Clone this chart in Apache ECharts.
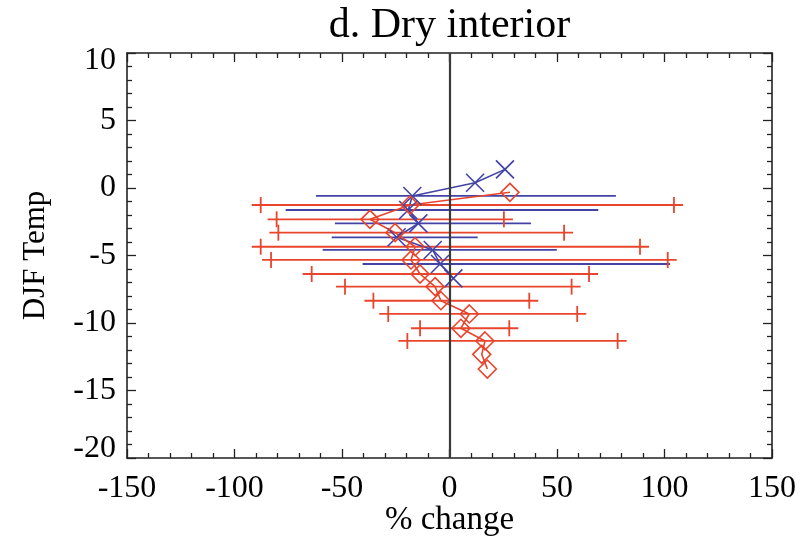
<!DOCTYPE html>
<html>
<head>
<meta charset="utf-8">
<script src="https://cdn.jsdelivr.net/npm/echarts@6/dist/echarts.min.js"></script>
<style>
html,body{margin:0;padding:0;background:#fff;}
#c{width:802px;height:539px;}
</style>
</head>
<body>
<div id="c"></div>
<script>
// ---- data ----
var titleText = 'd. Dry interior';
var xName = '% change';
var yName = 'DJF Temp';
var xTicks = [-150, -100, -50, 0, 50, 100, 150];
var yTicks = [-20, -15, -10, -5, 0, 5, 10];

var blueX  = [25.8, 11.9, -17.3, -19.2, -14.5, -24.6, -7.8, -4.4, 1.8];
var blueY  = [1.38, 0.39, -0.59, -1.63, -2.62, -3.65, -4.59, -5.63, -6.69];
var blueLo = [null, null, -62.1, -76.2, -53.3, -54.8, -59.0, -40.4, null];
var blueHi = [null, null, 77.4, 69.2, 37.9, 13.1, 49.9, 102.6, null];

var redX  = [28.1, -18.4, -37.0, -25.3, -16.0, -17.9, -13.7, -6.7, -4.0, 9.2, 5.3, 16.5, 15.0, 17.6];
var redY  = [-0.32, -1.26, -2.32, -3.31, -4.35, -5.33, -6.37, -7.31, -8.35, -9.33, -10.39, -11.33, -12.32, -13.41];
var redLo = [null, -87.8, -80.4, -79.6, -87.8, -83.0, -64.1, -48.6, -35.4, -28.5, -13.7, -19.6, null, null];
var redHi = [null, 104.4, 25.3, 53.3, 88.6, 101.5, 64.9, 56.8, 37.1, 59.4, 27.8, 78.2, null, null];

// ---- styles ----
var RED = '#e8452c';
var BLUE = '#4343a6';
var FONT = 'Liberation Serif';

function pts(xs, ys) { return xs.map(function (x, i) { return [x, ys[i]]; }); }
function bars(lo, hi, ys) {
  var out = [];
  for (var i = 0; i < ys.length; i++) if (lo[i] != null) out.push([lo[i], hi[i], ys[i]]);
  return out;
}

function barRenderer(color, caps) {
  return function (params, api) {
    var a = api.coord([api.value(0), api.value(2)]);
    var b = api.coord([api.value(1), api.value(2)]);
    var ext = caps ? 9 : 0;
    var st = { stroke: color, lineWidth: 1.8 };
    var ch = [{ type: 'line', shape: { x1: a[0] - ext, y1: a[1], x2: b[0] + ext, y2: b[1] }, style: st }];
    if (caps) {
      ch.push({ type: 'line', shape: { x1: a[0], y1: a[1] - 8, x2: a[0], y2: a[1] + 8 }, style: st });
      ch.push({ type: 'line', shape: { x1: b[0], y1: b[1] - 8, x2: b[0], y2: b[1] + 8 }, style: st });
    }
    return { type: 'group', children: ch };
  };
}

function xMarker(params, api) {
  var p = api.coord([api.value(0), api.value(1)]);
  var s = 9, st = { stroke: BLUE, lineWidth: 1.6 };
  return { type: 'group', children: [
    { type: 'line', shape: { x1: p[0] - s, y1: p[1] - s, x2: p[0] + s, y2: p[1] + s }, style: st },
    { type: 'line', shape: { x1: p[0] - s, y1: p[1] + s, x2: p[0] + s, y2: p[1] - s }, style: st }
  ]};
}
function diamondMarker(params, api) {
  var p = api.coord([api.value(0), api.value(1)]);
  var s = 9;
  return { type: 'polygon', shape: { points: [[p[0], p[1] - s], [p[0] + s, p[1]], [p[0], p[1] + s], [p[0] - s, p[1]]] },
    style: { fill: 'none', stroke: RED, lineWidth: 1.6 } };
}

var axisCommon = {
  axisLine: { show: true, onZero: false, lineStyle: { color: '#222', width: 1.6 } },
  axisTick: { show: true, inside: true, length: 9, lineStyle: { color: '#222', width: 1.3 } },
  minorTick: { show: true, splitNumber: 5, length: 5, lineStyle: { color: '#222', width: 1.3 } },
  splitLine: { show: false }
};

var yLabelRich = {
  n:  { fontFamily: FONT, fontSize: 32, color: '#000' },
  lo: { fontFamily: FONT, fontSize: 32, color: '#000', padding: [0, 0, 18, 0] },
  hi: { fontFamily: FONT, fontSize: 32, color: '#000', padding: [16, 0, 0, 0] }
};
function yLabelFmt(v) {
  if (v === yTicks[0]) return '{lo|' + v + '}';
  if (v === yTicks[yTicks.length - 1]) return '{hi|' + v + '}';
  return '{n|' + v + '}';
}

var chart = echarts.init(document.getElementById('c'), null, { renderer: 'canvas' });
chart.setOption({
  animation: false,
  backgroundColor: '#fff',
  textStyle: { fontFamily: FONT },
  grid: { left: 127, right: 30, top: 53, bottom: 81, containLabel: false, outerBoundsMode: 'none' },
  graphic: [{
    type: 'text', x: 449.5, y: 26,
    style: { text: titleText, font: '42px "Liberation Serif"', fill: '#000', align: 'center', verticalAlign: 'middle' }
  }],
  xAxis: [
    Object.assign({}, axisCommon, {
      type: 'value', position: 'bottom', min: xTicks[0], max: xTicks[xTicks.length - 1], interval: 50,
      name: xName, nameLocation: 'middle', nameGap: 46, nameMoveOverlap: false,
      nameTextStyle: { fontFamily: FONT, fontSize: 33, color: '#000' },
      axisLabel: { show: true, margin: 15, fontFamily: FONT, fontSize: 32, color: '#000' }
    }),
    Object.assign({}, axisCommon, {
      type: 'value', position: 'top', min: xTicks[0], max: xTicks[xTicks.length - 1], interval: 50,
      axisLabel: { show: false }
    })
  ],
  yAxis: [
    Object.assign({}, axisCommon, {
      type: 'value', position: 'left', min: yTicks[0], max: yTicks[yTicks.length - 1], interval: 5,
      name: yName, nameLocation: 'middle', nameGap: 76, nameMoveOverlap: false,
      nameTextStyle: { fontFamily: FONT, fontSize: 31, color: '#000' },
      axisLabel: { show: true, margin: 11, fontFamily: FONT, fontSize: 32, color: '#000',
        formatter: yLabelFmt, rich: yLabelRich }
    }),
    Object.assign({}, axisCommon, {
      type: 'value', position: 'right', min: yTicks[0], max: yTicks[yTicks.length - 1], interval: 5,
      axisLabel: { show: false }
    })
  ],
  series: [
    { type: 'custom', name: 'blueBars', xAxisIndex: 0, yAxisIndex: 0, data: bars(blueLo, blueHi, blueY),
      encode: { x: [0, 1], y: 2 }, renderItem: barRenderer(BLUE, false), z: 2 },
    { type: 'custom', name: 'redBars', xAxisIndex: 0, yAxisIndex: 0, data: bars(redLo, redHi, redY),
      encode: { x: [0, 1], y: 2 }, renderItem: barRenderer(RED, true), z: 2 },
    { type: 'line', name: 'blueLine', xAxisIndex: 0, yAxisIndex: 0, data: pts(blueX, blueY), symbol: 'none',
      lineStyle: { color: BLUE, width: 1.6 }, z: 3 },
    { type: 'line', name: 'redLine', xAxisIndex: 0, yAxisIndex: 0, data: pts(redX, redY), symbol: 'none',
      lineStyle: { color: RED, width: 1.6 }, z: 3,
      markLine: { silent: true, symbol: ['none', 'none'], label: { show: false },
        lineStyle: { color: '#3a3a3a', width: 2.2, type: 'solid' }, data: [{ xAxis: 0 }] } },
    { type: 'custom', name: 'blueMarks', xAxisIndex: 0, yAxisIndex: 0, data: pts(blueX, blueY),
      encode: { x: 0, y: 1 }, renderItem: xMarker, z: 4 },
    { type: 'custom', name: 'redMarks', xAxisIndex: 0, yAxisIndex: 0, data: pts(redX, redY),
      encode: { x: 0, y: 1 }, renderItem: diamondMarker, z: 4 }
  ]
});
</script>
</body>
</html>
